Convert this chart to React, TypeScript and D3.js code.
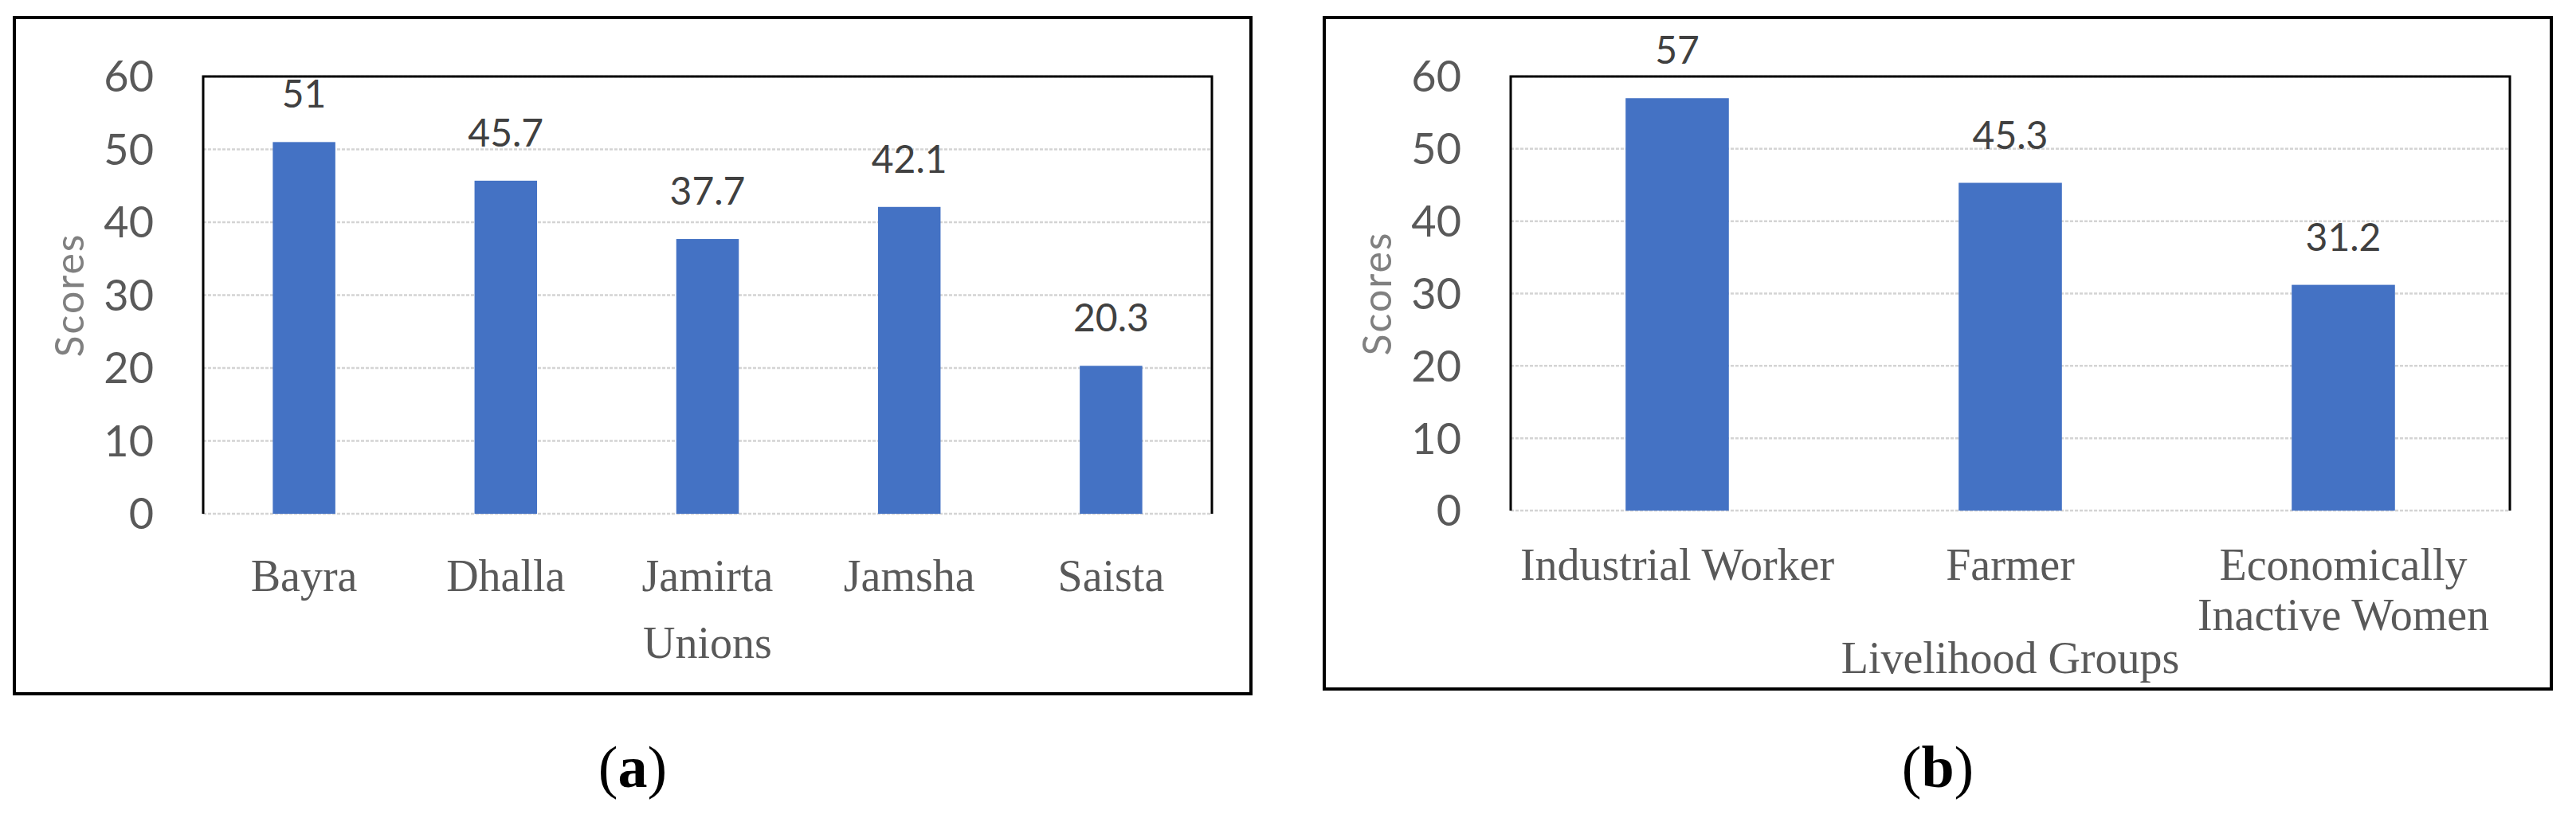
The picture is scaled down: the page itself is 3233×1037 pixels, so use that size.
import React from 'react'
import * as d3 from 'd3'

// panel (a)
const unions = ['Bayra', 'Dhalla', 'Jamirta', 'Jamsha', 'Saista']
const unionScores = [51, 45.7, 37.7, 42.1, 20.3]

// panel (b)
const groups = ['Industrial Worker', 'Farmer', 'Economically Inactive Women']
const groupScores = [57, 45.3, 31.2]
const groupTickLines = [['Industrial Worker'], ['Farmer'], ['Economically', 'Inactive Women']]

const yTicks = [0, 10, 20, 30, 40, 50, 60]

const W = 3233
const H = 1037
const BAR = '#4472C4'
const SANS = 'Lato, "Open Sans", sans-serif'
const SERIF = '"Liberation Serif", "Times New Roman", serif'

type PanelProps = {
  frame: { x0: number; y0: number; x1: number; y1: number }
  plot: { x0: number; y0: number; x1: number; y1: number }
  cats: string[]
  vals: number[]
  tickLines: string[][]
  tickY: number
  xTitle: string
  xTitleY: number
  caption: string
}

const Panel = ({ frame, plot, cats, vals, tickLines, tickY, xTitle, xTitleY, caption }: PanelProps) => {
  const x = d3
    .scaleBand<string>()
    .domain(cats)
    .range([plot.x0, plot.x1])
    .paddingInner(0.69)
    .paddingOuter(0.345)
  const y = d3.scaleLinear().domain([0, 60]).range([plot.y1, plot.y0])
  const cx = (frame.x0 + frame.x1) / 2
  const px = (plot.x0 + plot.x1) / 2

  return (
    <g>
      <rect
        x={frame.x0}
        y={frame.y0}
        width={frame.x1 - frame.x0}
        height={frame.y1 - frame.y0}
        fill="#fff"
        stroke="#000"
        strokeWidth={4}
      />
      {/* gridlines */}
      {yTicks.map((t) => (
        <line
          key={t}
          x1={plot.x0}
          x2={plot.x1}
          y1={y(t)}
          y2={y(t)}
          stroke="#d4d4d4"
          strokeWidth={2.5}
          strokeDasharray="4 2"
        />
      ))}
      {/* plot area border, top/left/right */}
      <path
        d={`M${plot.x0},${plot.y1}V${plot.y0}H${plot.x1}V${plot.y1}`}
        fill="none"
        stroke="#000"
        strokeWidth={3}
      />
      {/* bars */}
      {cats.map((c, i) => (
        <rect
          key={c}
          x={x(c)}
          y={y(vals[i])}
          width={x.bandwidth()}
          height={y(0) - y(vals[i])}
          fill={BAR}
        />
      ))}
      {/* value labels */}
      {cats.map((c, i) => (
        <text
          key={c}
          x={(x(c) ?? 0) + x.bandwidth() / 2}
          y={y(vals[i]) - 43}
          textAnchor="middle"
          fontFamily={SANS}
          fontSize={48}
          fill="#404040"
        >
          {vals[i]}
        </text>
      ))}
      {/* y tick labels */}
      {yTicks.map((t) => (
        <text
          key={t}
          x={plot.x0 - 62}
          y={y(t)}
          dy="0.36em"
          textAnchor="end"
          fontFamily={SANS}
          fontSize={54}
          fill="#595959"
        >
          {t}
        </text>
      ))}
      <text
        transform={`translate(${plot.x0 - 168},${(plot.y0 + plot.y1) / 2}) rotate(-90)`}
        textAnchor="middle"
        dy="0.36em"
        fontFamily={SANS}
        fontSize={50}
        letterSpacing={2}
        fill="#808080"
      >
        Scores
      </text>
      {/* x tick labels */}
      {cats.map((c, i) => (
        <text
          key={c}
          x={(x(c) ?? 0) + x.bandwidth() / 2}
          y={tickY}
          textAnchor="middle"
          fontFamily={SERIF}
          fontSize={56}
          fill="#595959"
        >
          {tickLines[i].map((l, j) => (
            <tspan key={j} x={(x(c) ?? 0) + x.bandwidth() / 2} dy={j === 0 ? 0 : 63}>
              {l}
            </tspan>
          ))}
        </text>
      ))}
      <text x={px} y={xTitleY} textAnchor="middle" fontFamily={SERIF} fontSize={56} fill="#595959">
        {xTitle}
      </text>
      {/* caption */}
      <text x={cx} y={988} textAnchor="middle" fontFamily={SERIF} fontSize={74} fill="#000">
        (<tspan fontWeight="bold">{caption}</tspan>)
      </text>
    </g>
  )
}

const App = () => {
  return (
    <svg
      width={W}
      height={H}
      style={{ position: 'absolute', left: 0, top: 0, background: '#fff' }}
    >
      <rect width={W} height={H} fill="#fff" />
      <Panel
        frame={{ x0: 18, y0: 22, x1: 1570, y1: 871 }}
        plot={{ x0: 255, y0: 96, x1: 1521, y1: 645 }}
        cats={unions}
        vals={unionScores}
        tickLines={unions.map((u) => [u])}
        tickY={742}
        xTitle="Unions"
        xTitleY={826}
        caption="a"
      />
      <Panel
        frame={{ x0: 1662, y0: 22, x1: 3202, y1: 865 }}
        plot={{ x0: 1896, y0: 96, x1: 3150, y1: 641 }}
        cats={groups}
        vals={groupScores}
        tickLines={groupTickLines}
        tickY={728}
        xTitle="Livelihood Groups"
        xTitleY={845}
        caption="b"
      />
    </svg>
  )
}

export default App
